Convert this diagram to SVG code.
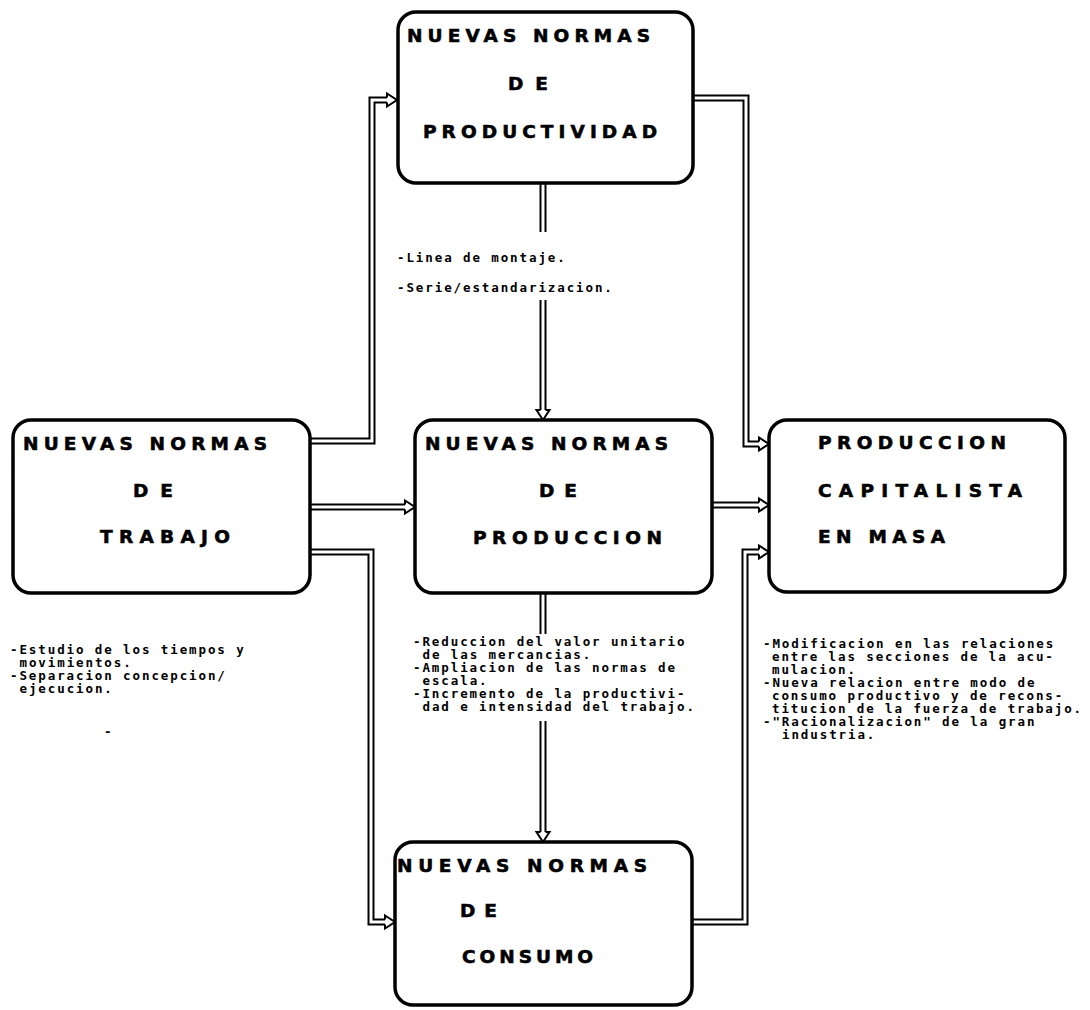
<svg xmlns="http://www.w3.org/2000/svg" xmlns:xlink="http://www.w3.org/1999/xlink" width="1090" height="1010" viewBox="0 0 1090 1010">
  <style>
    .box { fill: #fff; stroke: #000; stroke-width: 3.5; }
    .title { font-family: "DejaVu Sans", "Liberation Sans", sans-serif; font-weight: bold; font-size: 18.5px; fill: #000; stroke: #000; stroke-width: 0.6px; }
    .note { font-family: "DejaVu Sans Mono", "Liberation Mono", monospace; font-weight: bold; font-size: 12.5px; letter-spacing: 1.9px; fill: #000; }
    .rail { fill: none; stroke: #000; stroke-width: 7; stroke-linejoin: miter; }
    .gap { fill: none; stroke: #fff; stroke-width: 3; stroke-linejoin: miter; }
    .head { fill: #fff; stroke: #000; stroke-width: 2; stroke-linejoin: miter; }
  </style>
  <defs>
    <!-- hollow arrowhead, tip at origin pointing along +x -->
    <path id="ah" d="M-10,-2.5 L-10,-6.5 L0,0 L-10,6.5 L-10,2.5"/>
    <!-- connector centre lines (drawn as double rails) -->
    <path id="c1" d="M310,441 H372 V100 H388"/>
    <path id="c2" d="M310,507 H406"/>
    <path id="c3" d="M310,552 H371 V922 H386"/>
    <path id="c4" d="M693,98 H746 V444 H760"/>
    <path id="c5" d="M712,505 H760"/>
    <path id="c6" d="M692,922 H745 V552 H760"/>
    <path id="c7a" d="M543,183 V232"/>
    <path id="c7b" d="M543,300 V411"/>
    <path id="c8a" d="M543,593 V634"/>
    <path id="c8b" d="M543,721 V833"/>
  </defs>

  <rect width="1090" height="1010" fill="#fff"/>

  <g id="connectors">
    <use xlink:href="#c1" class="rail"/>
    <use xlink:href="#c2" class="rail"/>
    <use xlink:href="#c3" class="rail"/>
    <use xlink:href="#c4" class="rail"/>
    <use xlink:href="#c5" class="rail"/>
    <use xlink:href="#c6" class="rail"/>
    <use xlink:href="#c7a" class="rail"/>
    <use xlink:href="#c7b" class="rail"/>
    <use xlink:href="#c8a" class="rail"/>
    <use xlink:href="#c8b" class="rail"/>
    <use xlink:href="#c1" class="gap"/>
    <use xlink:href="#c2" class="gap"/>
    <use xlink:href="#c3" class="gap"/>
    <use xlink:href="#c4" class="gap"/>
    <use xlink:href="#c5" class="gap"/>
    <use xlink:href="#c6" class="gap"/>
    <use xlink:href="#c7a" class="gap"/>
    <use xlink:href="#c7b" class="gap"/>
    <use xlink:href="#c8a" class="gap"/>
    <use xlink:href="#c8b" class="gap"/>
    <use xlink:href="#ah" class="head" transform="translate(397,100)"/>
    <use xlink:href="#ah" class="head" transform="translate(415,507)"/>
    <use xlink:href="#ah" class="head" transform="translate(395,922)"/>
    <use xlink:href="#ah" class="head" transform="translate(769,444)"/>
    <use xlink:href="#ah" class="head" transform="translate(769,505)"/>
    <use xlink:href="#ah" class="head" transform="translate(769,552)"/>
    <use xlink:href="#ah" class="head" transform="translate(543,420) rotate(90)"/>
    <use xlink:href="#ah" class="head" transform="translate(543,842) rotate(90)"/>
  </g>

  <g id="productividad">
    <rect class="box" x="398" y="12" width="295" height="171" rx="18"/>
    <text class="title" x="407" y="42" textLength="243" lengthAdjust="spacing">NUEVAS NORMAS</text>
    <text class="title" x="508" y="90" textLength="40" lengthAdjust="spacing">DE</text>
    <text class="title" x="423" y="138" textLength="234" lengthAdjust="spacing">PRODUCTIVIDAD</text>
  </g>

  <g id="trabajo">
    <rect class="box" x="13" y="420" width="297" height="173" rx="18"/>
    <text class="title" x="23" y="450" textLength="244" lengthAdjust="spacing">NUEVAS NORMAS</text>
    <text class="title" x="133" y="497" textLength="40" lengthAdjust="spacing">DE</text>
    <text class="title" x="100" y="543" textLength="130" lengthAdjust="spacing">TRABAJO</text>
  </g>

  <g id="produccion">
    <rect class="box" x="415" y="420" width="297" height="173" rx="18"/>
    <text class="title" x="425" y="450" textLength="243" lengthAdjust="spacing">NUEVAS NORMAS</text>
    <text class="title" x="539" y="497" textLength="38" lengthAdjust="spacing">DE</text>
    <text class="title" x="473" y="544" textLength="189" lengthAdjust="spacing">PRODUCCION</text>
  </g>

  <g id="capitalista">
    <rect class="box" x="769" y="420" width="296" height="172" rx="18"/>
    <text class="title" x="818" y="449" textLength="188" lengthAdjust="spacing">PRODUCCION</text>
    <text class="title" x="818" y="497" textLength="204" lengthAdjust="spacing">CAPITALISTA</text>
    <text class="title" x="818" y="543" textLength="127" lengthAdjust="spacing">EN MASA</text>
  </g>

  <g id="consumo">
    <rect class="box" x="395" y="842" width="297" height="163" rx="18"/>
    <text class="title" x="397" y="872" textLength="250" lengthAdjust="spacing">NUEVAS NORMAS</text>
    <text class="title" x="460" y="917" textLength="37" lengthAdjust="spacing">DE</text>
    <text class="title" x="462" y="963" textLength="131" lengthAdjust="spacing">CONSUMO</text>
  </g>

  <g id="notas-productividad">
    <text class="note" x="397" y="262">-Linea de montaje.</text>
    <text class="note" x="397" y="292">-Serie/estandarizacion.</text>
  </g>

  <g id="notas-trabajo">
    <text class="note">
      <tspan x="10" y="654">-Estudio de los tiempos y</tspan>
      <tspan x="19.5" y="667">movimientos.</tspan>
      <tspan x="10" y="680">-Separacion concepcion/</tspan>
      <tspan x="19.5" y="693">ejecucion.</tspan>
    </text>
    <text class="note" x="104" y="736">-</text>
  </g>

  <g id="notas-produccion">
    <text class="note">
      <tspan x="413" y="646">-Reduccion del valor unitario</tspan>
      <tspan x="422.5" y="659">de las mercancias.</tspan>
      <tspan x="413" y="672">-Ampliacion de las normas de</tspan>
      <tspan x="422.5" y="685">escala.</tspan>
      <tspan x="413" y="698">-Incremento de la productivi-</tspan>
      <tspan x="422.5" y="711">dad e intensidad del trabajo.</tspan>
    </text>
  </g>

  <g id="notas-capitalista">
    <text class="note">
      <tspan x="763" y="648">-Modificacion en las relaciones</tspan>
      <tspan x="772" y="661">entre las secciones de la acu-</tspan>
      <tspan x="772" y="674">mulacion.</tspan>
      <tspan x="763" y="687">-Nueva relacion entre modo de</tspan>
      <tspan x="772" y="700">consumo productivo y de recons-</tspan>
      <tspan x="772" y="713">titucion de la fuerza de trabajo.</tspan>
      <tspan x="763" y="726">-&quot;Racionalizacion&quot; de la gran</tspan>
      <tspan x="782" y="739">industria.</tspan>
    </text>
  </g>
</svg>
